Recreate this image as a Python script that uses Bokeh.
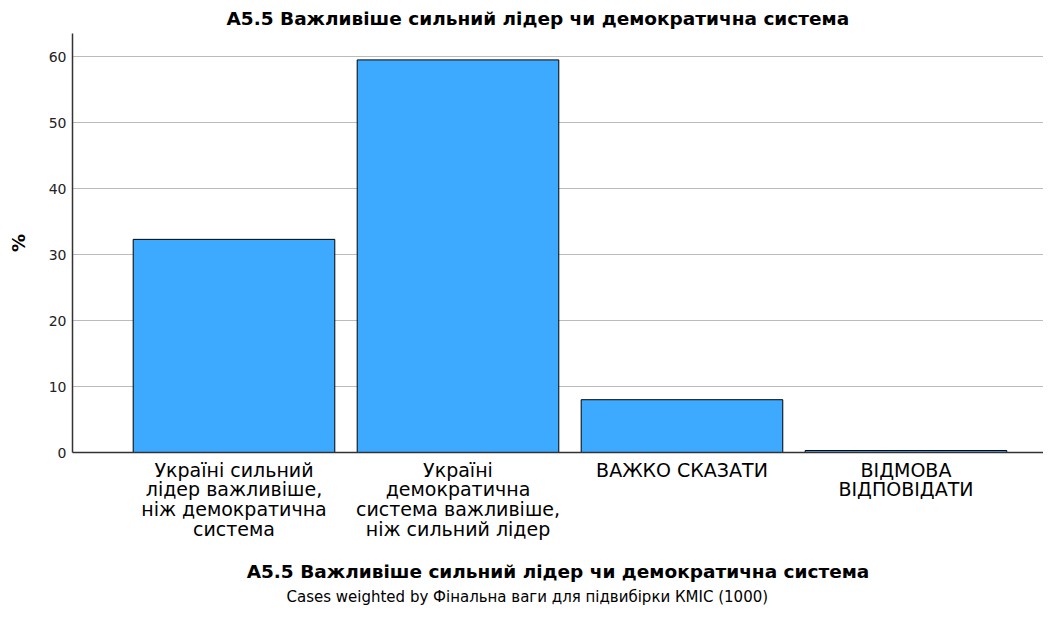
from bokeh.plotting import figure
from bokeh.models import Range1d, FixedTicker, Title, ColumnDataSource
from bokeh.embed import file_html
from bokeh.resources import INLINE

categories = [
    "Україні сильний\nлідер важливіше,\nніж демократична\nсистема",
    "Україні\nдемократична\nсистема важливіше,\nніж сильний лідер",
    "ВАЖКО СКАЗАТИ",
    "ВІДМОВА\nВІДПОВІДАТИ",
]
percent = [32.3, 59.5, 8.0, 0.3]
y_ticks = [0, 10, 20, 30, 40, 50, 60]

title_text = "A5.5 Важливіше сильний лідер чи демократична система"
footer_text = "Cases weighted by Фінальна ваги для підвибірки КМІС (1000)"

FONT = "DejaVu Sans"

xs = list(range(len(categories)))
src = ColumnDataSource(dict(x=xs, top=percent))

p = figure(width=1043, height=607, output_backend="svg", toolbar_location=None,
           x_range=Range1d(-0.721, 3.614), y_range=Range1d(0, 63.5),
           min_border_left=72, min_border_right=0, min_border_top=33,
           min_border_bottom=155)
p.outline_line_color = None
p.background_fill_color = "white"

p.vbar(x="x", top="top", width=0.9, source=src, fill_color="#3DAAFF",
       line_color="black", line_width=1)

# axes
p.xaxis.ticker = FixedTicker(ticks=xs)
p.xaxis.major_label_overrides = {i: c for i, c in enumerate(categories)}
p.xaxis.major_tick_line_color = None
p.xaxis.minor_tick_line_color = None
p.xaxis.axis_line_color = "#333333"
p.xaxis.axis_line_width = 1.5
p.xaxis.major_label_text_font = FONT
p.xaxis.major_label_text_font_size = "19px"
p.xaxis.major_label_text_line_height = 0.9
p.xaxis.major_label_text_color = "black"
p.xaxis.major_label_standoff = 0
p.xaxis.axis_label = title_text
p.xaxis.axis_label_text_font = FONT
p.xaxis.axis_label_text_font_size = "18.5px"
p.xaxis.axis_label_text_font_style = "bold"
p.xaxis.axis_label_text_color = "black"
p.xaxis.axis_label_standoff = 18

p.yaxis.ticker = FixedTicker(ticks=y_ticks)
p.yaxis.major_tick_line_color = None
p.yaxis.minor_tick_line_color = None
p.yaxis.axis_line_color = "#333333"
p.yaxis.axis_line_width = 1.5
p.yaxis.major_label_text_font = FONT
p.yaxis.major_label_text_font_size = "14px"
p.yaxis.major_label_text_color = "#222222"
p.yaxis.major_label_standoff = 0
p.yaxis.axis_label = "%"
p.yaxis.axis_label_text_font = FONT
p.yaxis.axis_label_text_font_size = "18px"
p.yaxis.axis_label_text_font_style = "bold"
p.yaxis.axis_label_text_color = "black"
p.yaxis.axis_label_standoff = 17

p.xgrid.grid_line_color = None
p.ygrid.grid_line_color = "#BBBBBB"
p.ygrid.grid_line_width = 1
p.ygrid.level = "underlay"

p.add_layout(Title(text=title_text, align="left", offset=154,
                   text_font=FONT, text_font_size="18.5px", text_font_style="bold",
                   text_color="black"), "above")
p.add_layout(Title(text=footer_text, align="left", offset=214, standoff=3,
                   text_font=FONT, text_font_size="15px", text_font_style="normal",
                   text_color="black"), "below")

open("out.html", "w").write(file_html(p, INLINE))
